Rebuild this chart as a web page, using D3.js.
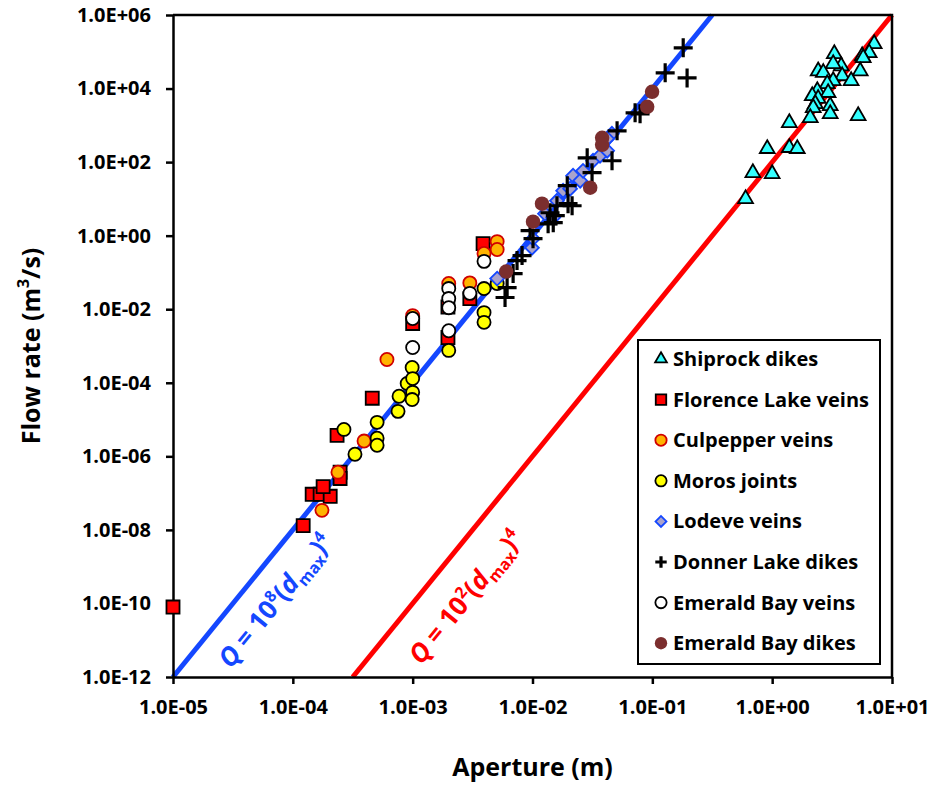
<!DOCTYPE html>
<html>
<head>
<meta charset="utf-8">
<script src="https://cdn.jsdelivr.net/npm/d3@7"></script>
<style>
  body { margin: 0; background: #fff; }
  text { font-family: "Open Sans", sans-serif; font-weight: bold; }
</style>
</head>
<body>
<svg id="chart" width="935" height="786"></svg>
<script>
// [aperture (m), flow rate (m3/s)]
var shiprock = [[7.1,1.64e5],[6.45,9.3e4],[5.64,7.7e4],[5.75,6.8e4],[3.3,8.8e4],[5.43,3.0e4],[3.77,4.1e4],
  [3.23,4.7e4],[2.42,3.0e4],[2.67,2.7e4],[3.84,2.2e4],[3.23,1.62e4],[4.56,1.62e4],[2.88,1.34e4],[2.38,8.7e3],
  [2.93,7.7e3],[2.16,6.3e3],[2.42,5.3e3],[2.29,3.85e3],[3.05,3.4e3],[2.2,3.0e3],[3.05,2.06e3],[2.08,1.6e3],
  [5.22,1.82e3],[1.39,1.17e3],[1.39,246],[1.62,231],[0.91,231],[0.69,51],[1.0,48],[0.6,10]];
var florence = [[1e-5,8e-11],[1.22e-4,1.3e-8],[1.45e-4,9.3e-8],[1.69e-4,9.3e-8],[2.05e-4,8.2e-8],[1.79e-4,1.5e-7],
  [2.48e-4,3.7e-7],[2.48e-4,2.5e-7],[2.34e-4,3.7e-6],[4.6e-4,3.8e-5],[1.0e-3,4.1e-3],[1.97e-3,1.7e-3],
  [1.97e-3,1.15e-2],[3.0e-3,1.95e-2],[3.87e-3,0.61]];
var culpepper = [[1.75e-4,3.4e-8],[2.38e-4,3.7e-7],[3.93e-4,2.6e-6],[6.1e-4,4.3e-4],[1.0e-3,6.7e-3],[2.0e-3,0.05],
  [3.0e-3,0.052],[5.07e-3,0.69],[5.07e-3,0.42],[3.94e-3,0.33]];
var moros = [[2.67e-4,5.4e-6],[3.3e-4,1.14e-6],[5.05e-4,8.4e-6],[5.05e-4,3.1e-6],[5.05e-4,2.0e-6],[7.55e-4,1.67e-5],
  [7.7e-4,4.3e-5],[9.0e-4,9.6e-5],[9.9e-4,2.6e-4],[1.0e-3,1.3e-4],[1.0e-3,5.5e-5],[9.9e-4,3.5e-5],[2.0e-3,7.6e-4],
  [3.94e-3,0.0365],[3.94e-3,8.1e-3],[3.94e-3,4.4e-3],[5.07e-3,0.05]];
var lodeve = [[5.07e-3,0.068],[9.9e-3,0.47],[1.01e-2,0.83],[1.27e-2,3.96],[1.49e-2,3.1],[1.6e-2,8.9],[1.8e-2,16.7],
  [2.06e-2,18.9],[2.18e-2,42.7],[2.5e-2,31.2],[2.64e-2,58],[3.2e-2,109],[3.66e-2,149],[4.2e-2,204],[4.6e-2,590],[4.2e-2,432]];
var donner = [[0.181,1.28e5],[0.128,2.67e4],[0.195,1.95e4],[0.0718,2190],[0.079,2060],[0.0508,711],[0.0461,109],
  [0.0286,131],[0.0314,51.5],[0.0195,22.9],[0.0198,7.4],[0.0214,6.5],[0.016,6.5],[0.0155,3.5],[0.014,4.2],
  [0.0149,2.26],[0.0135,2.1],[0.00955,1.37],[0.0101,0.83],[0.00818,0.287],[0.00743,0.21],[0.00689,0.093],
  [0.00614,0.0388],[0.0059,0.0208]];
var ebVeins = [[1.0e-3,9.1e-4],[1.0e-3,5.6e-3],[2.0e-3,2.6e-3],[2.0e-3,0.0365],[2.0e-3,0.0195],[2.0e-3,0.011],
  [3.0e-3,0.027],[3.94e-3,0.2]];
var ebDikes = [[0.0995,8150],[0.0906,3190],[0.0381,459],[0.0381,296],[0.0303,20.2],[0.012,7.4],[0.0101,2.4],[0.00603,0.106]];

var xTicks = [1e-5,1e-4,1e-3,1e-2,1e-1,1e0,1e1];
var yTicks = [1e-12,1e-10,1e-8,1e-6,1e-4,1e-2,1e0,1e2,1e4,1e6];

var svg = d3.select("#chart");
var pLeft = 173, pRight = 892, pTop = 15, pBottom = 677;

var x = d3.scaleLog().domain([1e-5, 10]).range([pLeft, pRight]);
var y = d3.scaleLog().domain([1e-12, 1e6]).range([pBottom, pTop]);

function sci(v) {
  var e = Math.round(Math.log10(v));
  return "1.0E" + (e < 0 ? "-" : "+") + String(Math.abs(e)).padStart(2, "0");
}

// fit lines Q = k * d^4
var fits = [{k: 1e8, color: "#1447ff", sup: "8", at: 4.5e-5, off: 40},
            {k: 1e2, color: "#ff0000", sup: "2", at: 1.6e-3, off: 46}];
fits.forEach(function(f) {
  var d0 = Math.pow(1e-12 / f.k, 0.25), d1 = Math.min(10, Math.pow(1e6 / f.k, 0.25));
  svg.append("line")
    .attr("x1", x(d0)).attr("y1", y(f.k * Math.pow(d0, 4)))
    .attr("x2", x(d1)).attr("y2", y(f.k * Math.pow(d1, 4)))
    .attr("stroke", f.color).attr("stroke-width", 5);
});

// axes
var gx = svg.append("g").attr("transform", "translate(0," + pBottom + ")")
  .call(d3.axisBottom(x).tickValues(xTicks).tickFormat(sci).tickSize(7).tickSizeOuter(0));
var gy = svg.append("g").attr("transform", "translate(" + pLeft + ",0)")
  .call(d3.axisLeft(y).tickValues(yTicks).tickFormat(sci).tickSize(7).tickSizeOuter(0));
[gx, gy].forEach(function(g) {
  g.selectAll("path, line").attr("stroke", "#000").attr("stroke-width", 2.5);
  g.selectAll("text").attr("fill", "#000").style("font-size", "20px").style("font-family", "Open Sans").style("font-weight", "bold");
});
gx.selectAll("text").attr("y", 30).attr("dy", "0.35em");
gy.selectAll("text").attr("x", -22);
svg.append("path").attr("d", "M" + pLeft + "," + pTop + "H" + pRight + "V" + pBottom)
  .attr("fill", "none").attr("stroke", "#000").attr("stroke-width", 2.5);

svg.append("text").attr("x", (pLeft + pRight) / 2).attr("y", 776).attr("text-anchor", "middle")
  .style("font-size", "25px").text("Aperture (m)");
var yl = svg.append("text").attr("transform", "translate(40,346) rotate(-90)").attr("text-anchor", "middle")
  .style("font-size", "25px");
yl.append("tspan").text("Flow rate (m");
yl.append("tspan").attr("baseline-shift", "super").style("font-size", "16px").text("3");
yl.append("tspan").text("/s)");

// markers
var crossPath = "M-9.5,0H9.5M0,-9.5V9.5";
var series = [
  {name: "Shiprock dikes", data: shiprock, type: d3.symbolTriangle, size: 95, fill: "#33ffff", stroke: "#000", sw: 1.8, lsize: 60},
  {name: "Florence Lake veins", data: florence, type: d3.symbolSquare, size: 170, fill: "#ff0000", stroke: "#000", sw: 1.8, lsize: 110},
  {name: "Culpepper veins", data: culpepper, type: d3.symbolCircle, size: 135, fill: "#ffb300", stroke: "#d00000", sw: 1.8, lsize: 100},
  {name: "Moros joints", data: moros, type: d3.symbolCircle, size: 135, fill: "#ffff00", stroke: "#000", sw: 1.8, lsize: 100},
  {name: "Lodeve veins", data: lodeve, type: "diamond", size: 95, fill: "#aaa3cc", stroke: "#1447ff", sw: 1.8, lsize: 60},
  {name: "Donner Lake dikes", data: donner, type: "cross", fill: "none", stroke: "#000", sw: 3.2},
  {name: "Emerald Bay veins", data: ebVeins, type: d3.symbolCircle, size: 135, fill: "#ffffff", stroke: "#000", sw: 1.8, lsize: 100},
  {name: "Emerald Bay dikes", data: ebDikes, type: d3.symbolCircle, size: 165, fill: "#7b2e2e", stroke: "none", sw: 0, lsize: 120}
];

function drawMark(g, s, size, scale) {
  if (s.type === "cross") {
    g.append("path").attr("d", crossPath).attr("transform", "scale(" + scale + ")")
      .attr("stroke", s.stroke).attr("stroke-width", s.sw / scale).attr("fill", "none");
  } else if (s.type === "diamond") {
    g.append("path").attr("d", d3.symbol().type(d3.symbolSquare).size(size)()).attr("transform", "rotate(45)")
      .attr("fill", s.fill).attr("stroke", s.stroke).attr("stroke-width", s.sw);
  } else {
    g.append("path").attr("d", d3.symbol().type(s.type).size(size)())
      .attr("fill", s.fill).attr("stroke", s.stroke).attr("stroke-width", s.sw);
  }
}

series.forEach(function(s) {
  svg.append("g").selectAll("g").data(s.data).join("g")
    .attr("transform", function(d) { return "translate(" + x(d[0]) + "," + y(d[1]) + ")"; })
    .each(function() { drawMark(d3.select(this), s, s.size, 1); });
});

// equation labels
fits.forEach(function(f) {
  var px = x(f.at), py = y(f.k * Math.pow(f.at, 4));
  var ang = Math.atan2(y(f.k * Math.pow(f.at * 10, 4)) - py, x(f.at * 10) - px);
  var nx = -Math.sin(ang), ny = Math.cos(ang);
  var t = svg.append("text")
    .attr("transform", "translate(" + (px + nx * f.off) + "," + (py + ny * f.off) + ") rotate(" + (ang * 180 / Math.PI) + ")")
    .attr("text-anchor", "middle").attr("fill", f.color).style("font-size", "26px");
  t.append("tspan").style("font-style", "italic").text("Q");
  t.append("tspan").text(" = 10");
  t.append("tspan").attr("dy", -10).style("font-size", "16px").text(f.sup);
  t.append("tspan").attr("dy", 10).text("(");
  t.append("tspan").style("font-style", "italic").text("d");
  t.append("tspan").attr("dy", 6).style("font-size", "16px").text("max");
  t.append("tspan").attr("dy", -6).text(")");
  t.append("tspan").attr("dy", -10).style("font-size", "16px").text("4");
});

// legend
var lg = svg.append("g").attr("transform", "translate(638,340)");
lg.append("rect").attr("width", 242).attr("height", 324).attr("fill", "#fff").attr("stroke", "#000").attr("stroke-width", 2);
series.forEach(function(s, i) {
  var row = lg.append("g").attr("transform", "translate(23," + (19 + i * 40.6) + ")");
  var m = row.append("g");
  drawMark(m, s, s.lsize, 0.6);
  row.append("text").attr("x", 12).attr("dy", "0.35em").style("font-size", "20px").text(s.name);
});
</script>
</body>
</html>
